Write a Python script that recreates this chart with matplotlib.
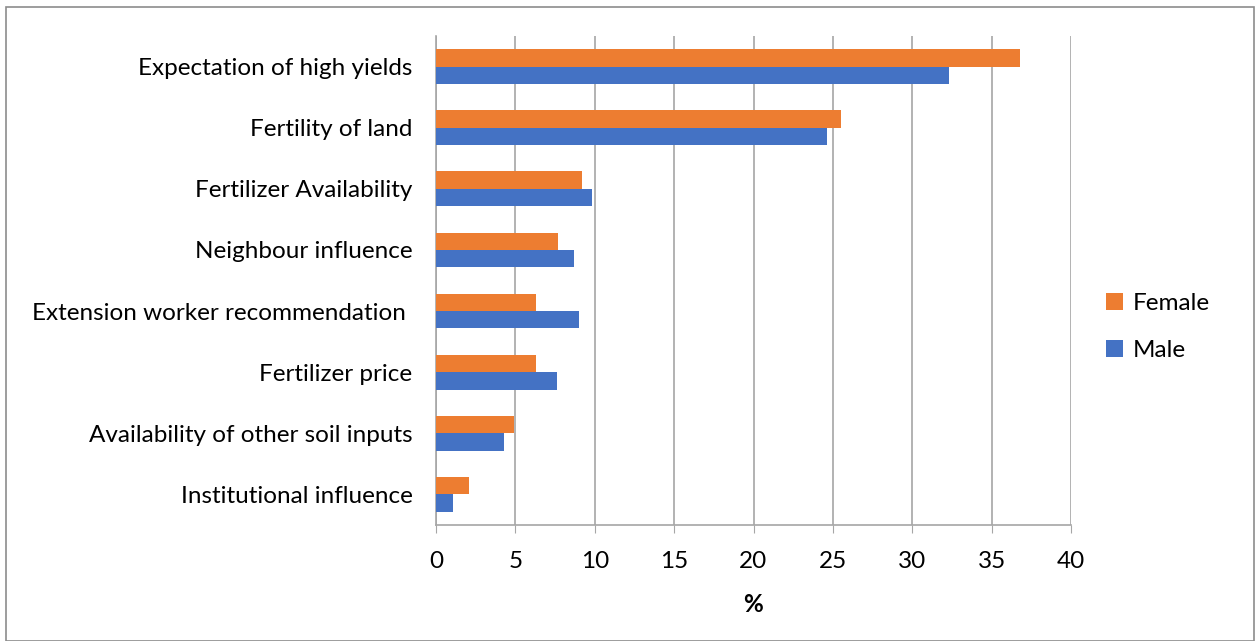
import matplotlib.pyplot as plt
from matplotlib.patches import Rectangle
import numpy as np

plt.rcParams['font.family'] = ['Lato', 'DejaVu Sans']

# Reasons (top to bottom) and percentage values
categories = ["Expectation of high yields", "Fertility of land", "Fertilizer Availability",
              "Neighbour influence", "Extension worker recommendation ", "Fertilizer price",
              "Availability of other soil inputs", "Institutional influence"]
female = [36.8, 25.5, 9.2, 7.7, 6.3, 6.3, 4.9, 2.1]
male = [32.3, 24.6, 9.8, 8.7, 9.0, 7.6, 4.3, 1.1]
xticks = [0, 5, 10, 15, 20, 25, 30, 35, 40]

c_female = '#ED7D31'
c_male = '#4472C4'
grid_c = '#a6a6a6'
fs = 17.5

fig = plt.figure(figsize=(12.6, 6.41), dpi=100)
ax = fig.add_axes([436 / 1260, 1 - 525 / 641, 635 / 1260, 489 / 641])

y = np.arange(len(categories))[::-1]
h = 0.285
ax.barh(y + h / 2, female, height=h, color=c_female, label='Female', zorder=3)
ax.barh(y - h / 2, male, height=h, color=c_male, label='Male', zorder=3)

ax.set_xlim(0, 40)
ax.set_ylim(-0.5, len(categories) - 0.5)
ax.set_xticks(xticks)
ax.set_xticklabels([str(t) for t in xticks], fontsize=fs)
ax.set_yticks(y)
ax.set_yticklabels(categories, fontsize=fs)
ax.tick_params(axis='y', length=0, pad=17)
ax.tick_params(axis='x', length=6, color=grid_c, pad=13)
ax.xaxis.grid(True, color=grid_c, linewidth=1.2, zorder=0)

for side in ['top', 'right']:
    ax.spines[side].set_visible(False)
ax.spines['left'].set_color(grid_c)
ax.spines['bottom'].set_color(grid_c)
ax.spines['left'].set_linewidth(1.2)
ax.spines['bottom'].set_linewidth(1.2)

ax.set_xlabel('%', fontsize=fs, fontweight='bold', labelpad=15)

handles, labels = ax.get_legend_handles_labels()
fig.legend(handles, labels, loc='center left', bbox_to_anchor=(1084 / 1260, 1 - 327 / 641),
           frameon=False, fontsize=fs, handlelength=0.7, handleheight=0.7,
           handletextpad=0.4, labelspacing=1.1)

# outer border of the chart
fig.patches.append(Rectangle((6 / 1260, 0), 1248 / 1260, 634 / 641,
                             transform=fig.transFigure, fill=False,
                             edgecolor='#8c8c8c', linewidth=1.2))

fig.savefig('out.png', dpi=100)
